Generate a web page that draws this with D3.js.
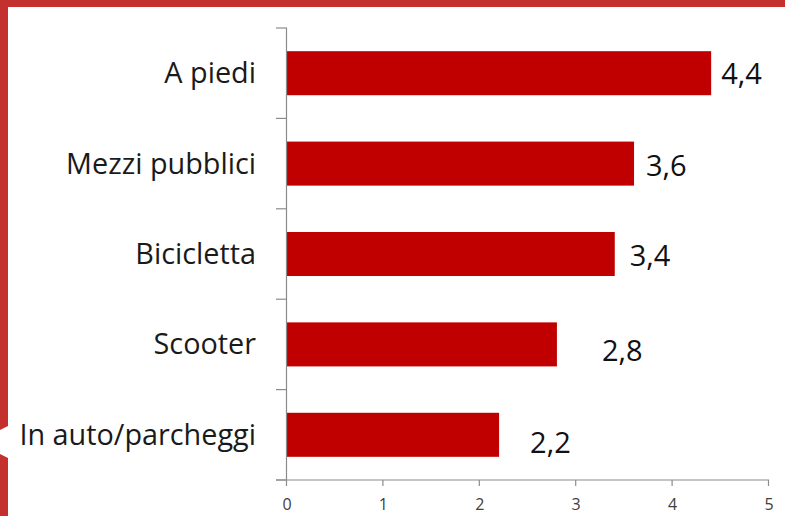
<!DOCTYPE html>
<html>
<head>
<meta charset="utf-8">
<script src="https://cdn.jsdelivr.net/npm/d3@7"></script>
<style>
  html, body { margin: 0; padding: 0; background: #fff; }
  svg { display: block; }
</style>
</head>
<body>
<svg id="chart" width="785" height="516"></svg>
<script>
// categories, top to bottom
var categories = ["A piedi", "Mezzi pubblici", "Bicicletta", "Scooter", "In auto/parcheggi"];
var values = [4.4, 3.6, 3.4, 2.8, 2.2];
var xTicks = [0, 1, 2, 3, 4, 5];

// hand placed data labels in the original: extra gap right of bar, drop below centre
var labelNudge = [[10, 1], [12, 2], [15, 2], [45, 7], [31, 8]];

var W = 785, H = 516;
var svg = d3.select("#chart");

var itLocale = d3.formatLocale({ decimal: ",", thousands: ".", grouping: [3], currency: ["", "€"] });
var fmt = itLocale.format(".1f");

//* frame
svg.append("rect").attr("x", 0).attr("y", 0).attr("width", W).attr("height", 7).attr("fill", "#c3302e");
svg.append("rect").attr("x", 0).attr("y", 0).attr("width", 8).attr("height", H).attr("fill", "#c3302e");
svg.append("path")
  .attr("d", "M0,430L8,426L8,458L0,454Z")
  .attr("fill", "#fff");

//* scales
var x = d3.scaleLinear().domain([0, 5]).range([287, 769]);
var y = d3.scaleBand().domain(categories).range([28, 480])
  .paddingInner(0.513).paddingOuter(0.2565);

var axisColor = "#8c8c8c";
var g = svg.append("g");

//* bars
g.selectAll(".bar")
  .data(values)
  .enter().append("rect")
  .attr("class", "bar")
  .attr("x", x(0))
  .attr("y", function(d, i) { return y(categories[i]); })
  .attr("width", function(d) { return x(d) - x(0); })
  .attr("height", y.bandwidth())
  .attr("fill", "#c00000");

//* vertical axis with ticks between categories
var gap = y.step() * y.paddingInner() / 2;
var bounds = categories.map(function(c) { return y(c) - gap; });
bounds.push(y(categories[categories.length - 1]) + y.bandwidth() + gap);

g.append("line")
  .attr("x1", x(0) - 0.5).attr("x2", x(0) - 0.5)
  .attr("y1", bounds[0]).attr("y2", bounds[bounds.length - 1])
  .attr("stroke", axisColor).attr("stroke-width", 1.2);

g.selectAll(".ytick")
  .data(bounds)
  .enter().append("line")
  .attr("x1", x(0) - 11).attr("x2", x(0))
  .attr("y1", function(d) { return d; }).attr("y2", function(d) { return d; })
  .attr("stroke", axisColor).attr("stroke-width", 1.2);

//* horizontal axis
var yBase = bounds[bounds.length - 1];
g.append("line")
  .attr("x1", x(0) - 11).attr("x2", x(5))
  .attr("y1", yBase).attr("y2", yBase)
  .attr("stroke", axisColor).attr("stroke-width", 1.2);

g.selectAll(".xtick")
  .data(xTicks)
  .enter().append("line")
  .attr("x1", function(d) { return x(d) - 0.5; }).attr("x2", function(d) { return x(d) - 0.5; })
  .attr("y1", yBase).attr("y2", yBase + 6)
  .attr("stroke", axisColor).attr("stroke-width", 1.2);

g.selectAll(".xlabel")
  .data(xTicks)
  .enter().append("text")
  .attr("x", function(d) { return x(d); })
  .attr("y", 510)
  .attr("font-family", "Open Sans")
  .attr("font-size", 16)
  .style("text-anchor", "middle")
  .style("fill", "#404040")
  .text(function(d) { return d; });

//* category labels
g.selectAll(".cat")
  .data(categories)
  .enter().append("text")
  .attr("x", 256)
  .attr("y", function(d) { return y(d) + y.bandwidth() / 2 + 10; })
  .attr("font-family", "Open Sans")
  .attr("font-size", 28.8)
  .style("text-anchor", "end")
  .style("fill", "#1a1a1a")
  .text(function(d) { return d; });

//* value labels
g.selectAll(".val")
  .data(values)
  .enter().append("text")
  .attr("x", function(d, i) { return x(d) + labelNudge[i][0]; })
  .attr("y", function(d, i) { return y(categories[i]) + y.bandwidth() / 2 + 10 + labelNudge[i][1]; })
  .attr("font-family", "Open Sans")
  .attr("font-size", 29)
  .style("fill", "#111")
  .text(function(d) { return fmt(d); });
</script>
</body>
</html>
